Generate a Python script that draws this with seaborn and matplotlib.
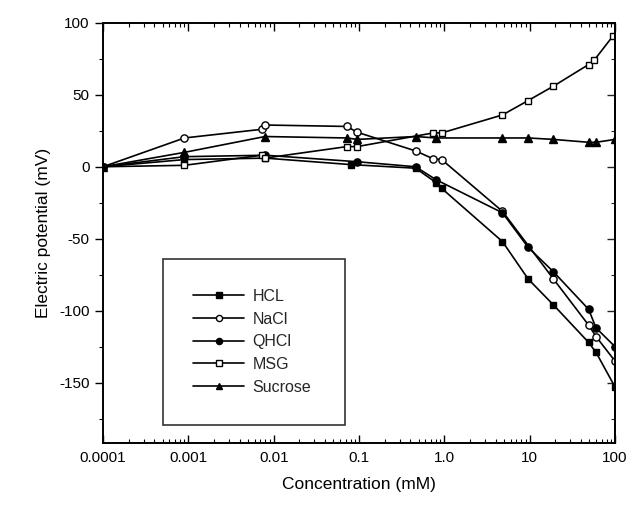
import matplotlib
matplotlib.use("Agg")
import matplotlib.pyplot as plt
import matplotlib.ticker as mticker
import numpy as np
import pandas as pd
import seaborn as sns

# ---- data ----
hcl_x = [1e-4, 9e-4, 0.008, 0.08, 0.46, 0.8, 0.93, 4.8, 9.6, 19, 49, 60, 100]
hcl_y = [0, 5, 6, 1.5, -1, -11, -15, -52, -78, -96, -122, -129, -153]

nacl_x = [1e-4, 9e-4, 0.0072, 0.0079, 0.072, 0.095, 0.46, 0.74, 0.93, 4.8, 19, 49, 60, 100]
nacl_y = [0, 20, 26, 29, 28, 24, 11, 5.5, 5, -31, -78, -110, -118, -135]

qhcl_x = [1e-4, 9e-4, 0.008, 0.095, 0.46, 0.8, 4.8, 9.6, 19, 49, 60, 100]
qhcl_y = [0, 7, 8, 3.5, 0, -9, -32, -56, -73, -99, -112, -125]

msg_x = [1e-4, 9e-4, 0.0072, 0.0079, 0.072, 0.095, 0.74, 0.93, 4.8, 9.6, 19, 49, 57, 95]
msg_y = [0, 1, 8, 6, 14, 14, 23.5, 23.5, 36, 46, 56, 71, 74, 91]

suc_x = [1e-4, 9e-4, 0.0079, 0.072, 0.095, 0.46, 0.8, 4.8, 9.6, 19, 49, 60, 100]
suc_y = [0, 10, 21, 20, 19, 21, 20, 20, 20, 19, 17, 17, 19]

series_names = ["HCL", "NaCl", "QHCl", "MSG", "Sucrose"]
x_tick_vals = [1e-4, 1e-3, 1e-2, 1e-1, 1, 10, 100]
x_tick_labels = ["0.0001", "0.001", "0.01", "0.1", "1.0", "10", "100"]
y_tick_vals = [-150, -100, -50, 0, 50, 100]

sns.set_theme(style="ticks")
plt.rcParams["font.family"] = ["Liberation Sans", "DejaVu Sans"]
plt.rcParams["axes.unicode_minus"] = False

fig = plt.figure(figsize=(6.36, 5.07), dpi=100)
ax = fig.add_axes([0.162, 0.126, 0.805, 0.829])

styles = [
    (hcl_x, hcl_y, "s", "black", 4.8),
    (nacl_x, nacl_y, "o", "white", 5.2),
    (qhcl_x, qhcl_y, "o", "black", 5.2),
    (msg_x, msg_y, "s", "white", 4.8),
    (suc_x, suc_y, "^", "black", 5.8),
]
for name, (xs, ys, mk, fc, ms) in zip(series_names, styles):
    df = pd.DataFrame({"Concentration": xs, "Potential": ys})
    sns.lineplot(data=df, x="Concentration", y="Potential", ax=ax,
                 color="black", linewidth=1.2, marker=mk, markersize=ms,
                 markerfacecolor=fc, markeredgecolor="black",
                 markeredgewidth=1.0, label=name, sort=False)

ax.set_xscale("log")
ax.set_xlim(1e-4, 100)
ax.set_ylim(-192, 100)
ax.set_xticks(x_tick_vals)
ax.set_xticklabels(x_tick_labels)
ax.xaxis.set_minor_locator(mticker.LogLocator(base=10, subs=np.arange(2, 10)))
ax.xaxis.set_minor_formatter(mticker.NullFormatter())
ax.set_yticks(y_tick_vals)
ax.yaxis.set_minor_locator(mticker.MultipleLocator(25))

ax.tick_params(axis="x", which="both", direction="in", top=True, bottom=True,
               labelsize=11, colors="black", pad=6)
ax.tick_params(axis="x", which="major", length=6, width=1)
ax.tick_params(axis="x", which="minor", length=3, width=0.8)
ax.tick_params(axis="y", which="both", direction="out", left=True,
               labelsize=11, colors="black")
ax.tick_params(axis="y", which="major", length=6, width=1)
ax.tick_params(axis="y", which="minor", length=3, width=0.8)

# mirrored inward ticks on the right spine
axr = ax.secondary_yaxis("right")
axr.set_yticks(y_tick_vals)
axr.yaxis.set_minor_locator(mticker.MultipleLocator(25))
axr.tick_params(axis="y", which="both", direction="in", labelright=False)
axr.tick_params(axis="y", which="major", length=6, width=1)
axr.tick_params(axis="y", which="minor", length=3, width=0.8)
axr.spines["right"].set_linewidth(1.4)

for s in ax.spines.values():
    s.set_visible(True)
    s.set_color("black")
    s.set_linewidth(1.4)

ax.set_xlabel("Concentration (mM)", fontsize=12.5, color="black", labelpad=8)
ax.set_ylabel("Electric potential (mV)", fontsize=12.5, color="black", labelpad=6)

leg = ax.legend(loc="lower left", bbox_to_anchor=(0.117, 0.043, 0.355, 0.40),
                mode="expand", frameon=True, fancybox=False, edgecolor="black",
                fontsize=11.5, handlelength=3.2, labelspacing=0.48,
                borderpad=1.9, handletextpad=0.5, borderaxespad=0,
                markerscale=0.85)
leg.get_frame().set_linewidth(1.2)

fig.savefig("out.png", dpi=100, facecolor="white")
